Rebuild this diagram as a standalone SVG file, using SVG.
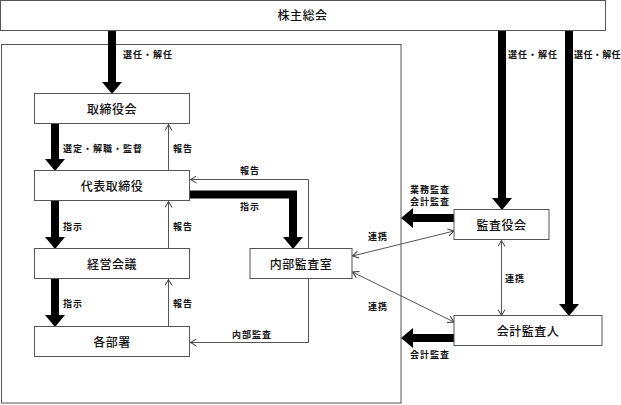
<svg xmlns="http://www.w3.org/2000/svg" width="621" height="405" viewBox="0 0 621 405">
<style>
.box{fill:#fff;stroke:#555;stroke-width:1}
.frame{fill:none;stroke:#555;stroke-width:1}
.nt{font-family:"Noto Sans CJK JP","Noto Sans",sans-serif;font-size:12px;font-weight:500;fill:#111;text-anchor:middle;letter-spacing:0.5px}
.lt{font-family:"Noto Sans CJK JP","Noto Sans",sans-serif;font-size:9px;font-weight:700;fill:#111;letter-spacing:1px}
.thick{fill:none;stroke:#000;stroke-width:8;marker-end:url(#bigHead)}
.thin{fill:none;stroke:#555;stroke-width:1;marker-end:url(#openHead)}
.both{fill:none;stroke:#555;stroke-width:1;marker-end:url(#openHead);marker-start:url(#openHead)}
</style>
<defs>
<marker id="bigHead" markerUnits="userSpaceOnUse" viewBox="0 0 12 20" markerWidth="12" markerHeight="20" refX="0" refY="10" orient="auto">
<path d="M0,0 L12,10 L0,20 z" fill="#000"/>
</marker>
<marker id="openHead" markerUnits="userSpaceOnUse" viewBox="0 0 7 8" markerWidth="7" markerHeight="8" refX="6.5" refY="4" orient="auto-start-reverse">
<path d="M0.5,0.5 L6.5,4 L0.5,7.5" fill="none" stroke="#333" stroke-width="1"/>
</marker>
</defs>
<rect class="frame" x="1.5" y="44.5" width="399.5" height="358.5"/>
<g id="connectors">
<path class="thick" d="M112,31 V82"/>
<path class="thick" d="M55,124 V159"/>
<path class="thick" d="M55,201 V237"/>
<path class="thick" d="M55,279 V315"/>
<path class="thick" d="M190,194.5 H293 V237"/>
<path class="thick" d="M502,31 V198"/>
<path class="thick" d="M569,31 V304"/>
<path class="thick" d="M454,218 H413"/>
<path class="thick" d="M454,338 H413"/>
<path class="thin" d="M168.5,171 V124.5"/>
<path class="thin" d="M168.5,249 V201.5"/>
<path class="thin" d="M168.5,327 V279.5"/>
<path class="thin" d="M308.5,249 V179.5 H190.5"/>
<path class="thin" d="M308.5,279 V342.5 H190.5"/>
<path class="both" d="M352.5,256 L454,231"/>
<path class="both" d="M352.5,272 L454,322"/>
<path class="both" d="M501.5,240.5 V315.5"/>
<text class="lt" x="123" y="57.5">選任・解任</text>
<text class="lt" x="508" y="57.5">選任・解任</text>
<text class="lt" x="574" y="57.5" style="letter-spacing:0.4px">選任・解任</text>
<text class="lt" x="63" y="151.5">選定・解職・監督</text>
<text class="lt" x="173" y="151.5">報告</text>
<text class="lt" x="240" y="174">報告</text>
<text class="lt" x="240" y="210">指示</text>
<text class="lt" x="63" y="229.5">指示</text>
<text class="lt" x="173" y="229.5">報告</text>
<text class="lt" x="63" y="306.5">指示</text>
<text class="lt" x="173" y="306.5">報告</text>
<text class="lt" x="232" y="337.5">内部監査</text>
<text class="lt" x="410" y="192.5">業務監査</text>
<text class="lt" x="410" y="205">会計監査</text>
<text class="lt" x="368" y="239.5">連携</text>
<text class="lt" x="368" y="310">連携</text>
<text class="lt" x="505" y="281.5">連携</text>
<text class="lt" x="410" y="357.5">会計監査</text>
</g>
<g id="n-shareholders"><rect class="box" x="0.5" y="0.5" width="605" height="30"/><text class="nt" x="302.5" y="20">株主総会</text></g>
<g id="n-board"><rect class="box" x="34.5" y="93.5" width="155" height="30"/><text class="nt" x="112" y="113.5">取締役会</text></g>
<g id="n-rep"><rect class="box" x="34.5" y="170.5" width="155" height="30"/><text class="nt" x="112" y="190.5">代表取締役</text></g>
<g id="n-mgmt"><rect class="box" x="34.5" y="248.5" width="155" height="30"/><text class="nt" x="112" y="268.5">経営会議</text></g>
<g id="n-depts"><rect class="box" x="34.5" y="326.5" width="155" height="30"/><text class="nt" x="112" y="346.5">各部署</text></g>
<g id="n-internal"><rect class="box" x="250" y="248.5" width="102" height="30"/><text class="nt" x="301" y="268.5">内部監査室</text></g>
<g id="n-auditors"><rect class="box" x="454" y="209.5" width="95" height="30"/><text class="nt" x="501.5" y="229.5">監査役会</text></g>
<g id="n-accountant"><rect class="box" x="454" y="315.5" width="148" height="30"/><text class="nt" x="528" y="335.5">会計監査人</text></g>
</svg>
